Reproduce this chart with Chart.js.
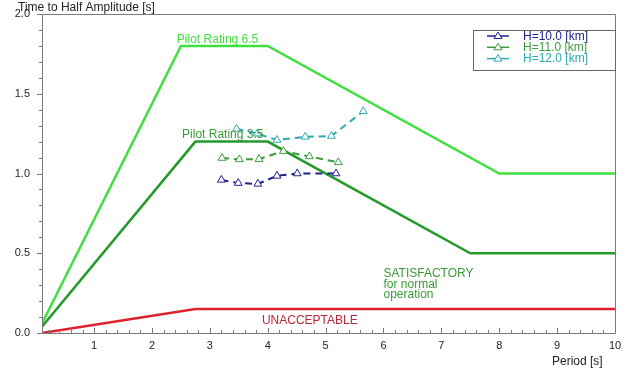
<!DOCTYPE html>
<html>
<head>
<meta charset="utf-8">
<script src="https://cdn.jsdelivr.net/npm/chart.js@4"></script>
<style>
  html, body { margin: 0; padding: 0; background: #fff; }
  #wrap { width: 629px; height: 374px; }
</style>
</head>
<body>
<div id="wrap"><canvas id="chart" width="629" height="374"></canvas></div>
<script>
// ---- data ----
const xTicks = [1, 2, 3, 4, 5, 6, 7, 8, 9, 10];
const yTicks = [0, 0.5, 1.0, 1.5, 2.0];

// boundary lines
const rating65X = [0.1, 2.5, 4.0, 8.0, 10];
const rating65Y = [0.06, 1.8, 1.8, 1.0, 1.0];
const rating35X = [0.1, 2.75, 4.0, 7.5, 10];
const rating35Y = [0.04, 1.2, 1.2, 0.5, 0.5];
const unaccX = [0.1, 2.75, 10];
const unaccY = [0.0, 0.15, 0.15];

// measured series
const seriesNames = ['H=10.0 [km]', 'H=11.0 [km]', 'H=12.0 [km]'];
const h10X = [3.2, 3.49, 3.83, 4.16, 4.51, 5.18];
const h10Y = [0.96, 0.94, 0.935, 0.985, 1.0, 1.0];
const h11X = [3.21, 3.51, 3.85, 4.27, 4.72, 5.22];
const h11Y = [1.097, 1.088, 1.09, 1.14, 1.107, 1.07];
const h12X = [3.46, 3.82, 4.16, 4.65, 5.1, 5.65];
const h12Y = [1.28, 1.25, 1.21, 1.23, 1.235, 1.39];

const COLORS = {
  h10: '#20208c',
  h11: '#3c9c3c',
  h12: '#2ea8b4',
  r65: '#3ee03e',
  r35: '#259a2c',
  unacc: '#e0202e'
};

function pts(xs, ys) {
  return xs.map((x, i) => ({ x: x, y: ys[i] }));
}

function seriesDs(label, xs, ys, color) {
  return {
    label: label,
    data: pts(xs, ys),
    borderColor: color,
    backgroundColor: '#fff',
    borderWidth: 2,
    borderDash: [7, 5],
    pointStyle: 'triangle',
    pointRadius: 4.5,
    pointBorderWidth: 1,
    pointBorderColor: color,
    pointBackgroundColor: '#fff',
    tension: 0
  };
}

function boundDs(label, xs, ys, color) {
  return {
    label: label,
    data: pts(xs, ys),
    borderColor: color,
    borderWidth: 2.5,
    pointRadius: 0,
    tension: 0
  };
}

// ---- frame, ticks, annotations, legend ----
const framePlugin = {
  id: 'frame',
  afterDraw(chart) {
    const ctx = chart.ctx;
    const a = chart.chartArea;
    const xs = chart.scales.x;
    const ys = chart.scales.y;
    ctx.save();

    // box
    ctx.strokeStyle = '#7a7a7a';
    ctx.lineWidth = 1;
    ctx.beginPath();
    ctx.moveTo(a.left + 0.5, a.top + 0.5);
    ctx.lineTo(a.right + 0.5, a.top + 0.5);
    ctx.lineTo(a.right + 0.5, a.bottom + 0.5);
    ctx.moveTo(a.left + 0.5, a.top + 0.5);
    ctx.lineTo(a.left + 0.5, a.bottom + 0.5);
    ctx.lineTo(a.right + 0.5, a.bottom + 0.5);
    ctx.stroke();

    // y ticks (outside)
    ctx.beginPath();
    for (let i = 0; i <= 20; i++) {
      const v = i / 10;
      const py = Math.round(ys.getPixelForValue(v)) + 0.5;
      const len = (i % 5 === 0) ? 5 : 3;
      ctx.moveTo(a.left - len, py);
      ctx.lineTo(a.left, py);
    }
    // x ticks (inside)
    for (let i = 1; i <= 50; i++) {
      const v = i / 5;
      const px = Math.round(xs.getPixelForValue(v)) + 0.5;
      const len = (i % 5 === 0) ? 5 : 3;
      ctx.moveTo(px, a.bottom);
      ctx.lineTo(px, a.bottom - len);
    }
    ctx.stroke();

    // axis titles
    ctx.font = '12px "Liberation Sans", Arial, sans-serif';
    ctx.fillStyle = '#222';
    ctx.textBaseline = 'middle';
    ctx.textAlign = 'left';
    ctx.fillText('Time to Half Amplitude [s]', 18, 8);
    ctx.fillText('Period [s]', 552, 362);

    // region labels
    const tx = (x) => xs.getPixelForValue(x);
    const ty = (y) => ys.getPixelForValue(y);
    ctx.font = '12px "Liberation Sans", Arial, sans-serif';
    ctx.fillStyle = COLORS.r65;
    ctx.fillText('Pilot Rating 6.5', tx(2.43), ty(1.84));
    ctx.fillStyle = '#3a9a3a';
    ctx.fillText('Pilot Rating 3.5', tx(2.52), ty(1.245));
    ctx.fillText('SATISFACTORY', tx(6.0), ty(0.37));
    ctx.fillText('for normal', tx(6.0), ty(0.305));
    ctx.fillText('operation', tx(6.0), ty(0.24));
    ctx.fillStyle = '#b8283a';
    ctx.fillText('UNACCEPTABLE', tx(3.9), ty(0.08));

    // legend
    const lx = 473.5, ly = 30.5, lw = a.right - 473, lh = 40;
    ctx.fillStyle = '#fff';
    ctx.fillRect(lx, ly, lw, lh);
    ctx.strokeStyle = '#666';
    ctx.strokeRect(lx, ly, lw, lh);
    const legendColors = [COLORS.h10, COLORS.h11, COLORS.h12];
    seriesNames.forEach((name, i) => {
      const yy = 36 + i * 11.3;
      const c = legendColors[i];
      ctx.strokeStyle = c;
      ctx.lineWidth = 1.5;
      ctx.beginPath();
      ctx.moveTo(487, yy);
      ctx.lineTo(509, yy);
      ctx.stroke();
      ctx.lineWidth = 1;
      ctx.fillStyle = '#fff';
      ctx.beginPath();
      ctx.moveTo(498, yy - 4);
      ctx.lineTo(502, yy + 2.5);
      ctx.lineTo(494, yy + 2.5);
      ctx.closePath();
      ctx.fill();
      ctx.stroke();
      ctx.fillStyle = c;
      ctx.font = '12px "Liberation Sans", Arial, sans-serif';
      ctx.fillText(name, 523, yy + 0.5);
    });

    ctx.restore();
  }
};

const ctx = document.getElementById('chart').getContext('2d');
const chart = new Chart(ctx, {
  type: 'line',
  data: {
    datasets: [
      seriesDs(seriesNames[0], h10X, h10Y, COLORS.h10),
      seriesDs(seriesNames[1], h11X, h11Y, COLORS.h11),
      seriesDs(seriesNames[2], h12X, h12Y, COLORS.h12),
      boundDs('Pilot Rating 6.5', rating65X, rating65Y, COLORS.r65),
      boundDs('Pilot Rating 3.5', rating35X, rating35Y, COLORS.r35),
      boundDs('UNACCEPTABLE', unaccX, unaccY, COLORS.unacc)
    ]
  },
  options: {
    responsive: false,
    animation: false,
    layout: { padding: { left: 0, top: 14, right: 14, bottom: 0 } },
    plugins: {
      legend: { display: false },
      tooltip: { enabled: false }
    },
    scales: {
      x: {
        type: 'linear',
        min: 0.1,
        max: 10,
        grid: { display: false, drawTicks: false },
        border: { display: false },
        afterBuildTicks: (scale) => { scale.ticks = xTicks.map(v => ({ value: v })); },
        afterFit: (scale) => {
          scale.height = 41;
          scale.paddingLeft = 0;
          scale.paddingRight = 0;
        },
        ticks: {
          padding: 6,
          color: '#222',
          font: { family: '"Liberation Sans", Arial, sans-serif', size: 11 },
          maxRotation: 0,
          autoSkip: false,
          callback: (v) => String(v)
        }
      },
      y: {
        min: 0,
        max: 2,
        grid: { display: false, drawTicks: false },
        border: { display: false },
        afterBuildTicks: (scale) => { scale.ticks = yTicks.map(v => ({ value: v })); },
        afterFit: (scale) => {
          scale.width = 42;
          scale.paddingTop = 0;
          scale.paddingBottom = 0;
        },
        ticks: {
          padding: 12,
          color: '#222',
          font: { family: '"Liberation Sans", Arial, sans-serif', size: 11 },
          callback: (v) => Number(v).toFixed(1)
        }
      }
    }
  },
  plugins: [framePlugin]
});
</script>
</body>
</html>
